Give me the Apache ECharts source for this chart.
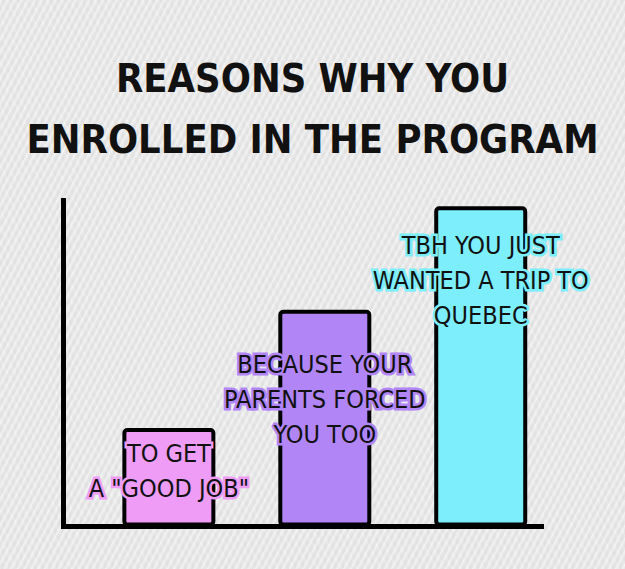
<!DOCTYPE html>
<html>
<head>
<meta charset="utf-8">
<script src="https://cdn.jsdelivr.net/npm/echarts@6/dist/echarts.min.js"></script>
<style>
  html, body { margin: 0; padding: 0; }
  body {
    width: 625px; height: 569px; overflow: hidden;
    background-color: #ebebeb;
    background-image:
      repeating-linear-gradient(118deg, rgba(255,255,255,0.35) 0px, rgba(255,255,255,0.35) 1px, rgba(0,0,0,0.0) 2px, rgba(0,0,0,0.035) 4px, rgba(0,0,0,0) 6px),
      repeating-linear-gradient(62deg, rgba(255,255,255,0.18) 0px, rgba(0,0,0,0.02) 3px, rgba(255,255,255,0) 7px);
  }
  #chart { width: 625px; height: 569px; }
</style>
</head>
<body>
<div id="chart"></div>
<script>
const titleText = 'REASONS WHY YOU\nENROLLED IN THE PROGRAM';
const categories = [
  'TO GET\nA "GOOD JOB"',
  'BECAUSE YOUR\nPARENTS FORCED\nYOU TOO',
  'TBH YOU JUST\nWANTED A TRIP TO\nQUEBEC'
];
const values = [30, 66, 97.5];

const barColors = ['#ee9cf6', '#b185f6', '#7ceefc'];
const labelGap = [8, 37, 22];
const FONT = "'DejaVu Sans Condensed', 'Liberation Sans Narrow', sans-serif";

const chart = echarts.init(document.getElementById('chart'), null, { renderer: 'svg' });

const barData = values.map((v, i) => ({
  value: v,
  itemStyle: { color: barColors[i] },
  label: { textBorderColor: barColors[i], distance: labelGap[i] }
}));

chart.setOption({
  backgroundColor: 'transparent',
  animation: false,
  title: {
    text: titleText,
    left: 'center',
    top: 42,
    textStyle: {
      fontFamily: FONT,
      fontWeight: 'bold',
      fontSize: 39.5,
      lineHeight: 61,
      color: '#111'
    }
  },
  grid: [
    { left: 63.5, right: 83.5, top: 200.5, bottom: 42.5 },
    { left: 90.9, right: 66.3, top: 198, bottom: 42.5 }
  ],
  xAxis: [
    {
      gridIndex: 0, type: 'category', data: categories,
      axisLine: { show: true, lineStyle: { color: '#000', width: 5, cap: 'square' } },
      axisTick: { show: false }, axisLabel: { show: false }, splitLine: { show: false }
    },
    {
      gridIndex: 1, type: 'category', data: categories,
      axisLine: { show: false }, axisTick: { show: false }, axisLabel: { show: false }
    }
  ],
  yAxis: [
    {
      gridIndex: 0, type: 'value', min: 0, max: 100,
      axisLine: { show: true, lineStyle: { color: '#000', width: 5, cap: 'square' } },
      axisTick: { show: false }, axisLabel: { show: false }, splitLine: { show: false }
    },
    {
      gridIndex: 1, type: 'value', min: 0, max: 100,
      axisLine: { show: false }, axisTick: { show: false }, axisLabel: { show: false }, splitLine: { show: false }
    }
  ],
  series: [{
    type: 'bar',
    xAxisIndex: 1,
    yAxisIndex: 1,
    data: barData,
    barWidth: 93,
    z: 1,
    itemStyle: { borderColor: '#000', borderWidth: 4, borderRadius: 3 },
    label: {
      show: true,
      position: 'insideTop',
      formatter: '{b}',
      fontFamily: FONT,
      fontSize: 25,
      lineHeight: 35,
      color: '#111',
      textBorderWidth: 5,
      align: 'center'
    }
  }]
});
</script>
</body>
</html>
